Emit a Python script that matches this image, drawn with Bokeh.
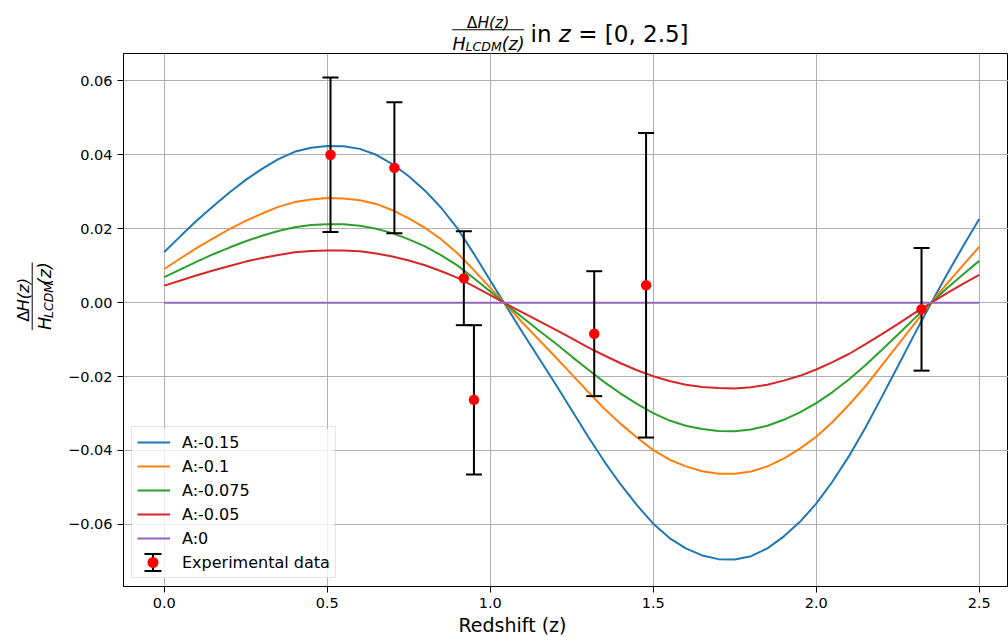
from bokeh.plotting import figure
from bokeh.layouts import column, row
from bokeh.models import (Range1d, FixedTicker, CustomJSTickFormatter, Label, Title,
                          BoxAnnotation, Legend, LegendItem)
from bokeh.embed import file_html
from bokeh.resources import INLINE

# ---------------- data ----------------
curve_z = [0.00, 0.05, 0.10, 0.15, 0.20, 0.25, 0.30, 0.35, 0.40, 0.45,
           0.50, 0.55, 0.60, 0.65, 0.70, 0.75, 0.80, 0.85, 0.90, 0.95,
           1.00, 1.05, 1.10, 1.15, 1.20, 1.25, 1.30, 1.35, 1.40, 1.45,
           1.50, 1.55, 1.60, 1.65, 1.70, 1.75, 1.80, 1.85, 1.90, 1.95,
           2.00, 2.05, 2.10, 2.15, 2.20, 2.25, 2.30, 2.35, 2.40, 2.45, 2.50]

dh_a015 = [0.0137, 0.0180, 0.0222, 0.0261, 0.0298, 0.0332, 0.0362, 0.0388, 0.0408, 0.0419,
           0.0424, 0.0423, 0.0416, 0.0400, 0.0375, 0.0342, 0.0303, 0.0256, 0.0200, 0.0132,
           0.0060, -0.0011, -0.0082, -0.0151, -0.0220, -0.0291, -0.0362, -0.0430, -0.0492, -0.0548,
           -0.0598, -0.0637, -0.0665, -0.0684, -0.0694, -0.0695, -0.0686, -0.0665, -0.0633, -0.0593,
           -0.0544, -0.0484, -0.0416, -0.0340, -0.0257, -0.0173, -0.0088, -0.0005, 0.0075, 0.0152, 0.0226]

dh_a010 = [0.0091, 0.0120, 0.0148, 0.0174, 0.0199, 0.0221, 0.0241, 0.0259, 0.0272, 0.0279,
           0.0283, 0.0282, 0.0277, 0.0267, 0.0250, 0.0228, 0.0202, 0.0171, 0.0133, 0.0088,
           0.0040, -0.0007, -0.0055, -0.0101, -0.0147, -0.0194, -0.0241, -0.0287, -0.0328, -0.0365,
           -0.0399, -0.0425, -0.0443, -0.0456, -0.0463, -0.0463, -0.0457, -0.0443, -0.0422, -0.0395,
           -0.0363, -0.0323, -0.0277, -0.0227, -0.0171, -0.0115, -0.0059, -0.0003, 0.0050, 0.0101, 0.0151]

dh_a0075 = [0.0069, 0.0090, 0.0111, 0.0131, 0.0149, 0.0166, 0.0181, 0.0194, 0.0204, 0.0210,
            0.0212, 0.0212, 0.0208, 0.0200, 0.0188, 0.0171, 0.0152, 0.0128, 0.0100, 0.0066,
            0.0030, -0.0006, -0.0041, -0.0076, -0.0110, -0.0146, -0.0181, -0.0215, -0.0246, -0.0274,
            -0.0299, -0.0319, -0.0333, -0.0342, -0.0347, -0.0348, -0.0343, -0.0333, -0.0317, -0.0297,
            -0.0272, -0.0242, -0.0208, -0.0170, -0.0129, -0.0087, -0.0044, -0.0003, 0.0038, 0.0076, 0.0113]

dh_a005 = [0.0046, 0.0060, 0.0074, 0.0087, 0.0099, 0.0111, 0.0121, 0.0129, 0.0136, 0.0140,
           0.0141, 0.0141, 0.0139, 0.0133, 0.0125, 0.0114, 0.0101, 0.0085, 0.0067, 0.0044,
           0.0020, -0.0004, -0.0027, -0.0050, -0.0073, -0.0097, -0.0121, -0.0143, -0.0164, -0.0183,
           -0.0199, -0.0212, -0.0222, -0.0228, -0.0231, -0.0232, -0.0229, -0.0222, -0.0211, -0.0198,
           -0.0181, -0.0161, -0.0139, -0.0113, -0.0086, -0.0058, -0.0029, -0.0002, 0.0025, 0.0051, 0.0075]

zero_z = [0.0, 2.5]
dh_a0 = [0.0, 0.0]

series_labels = ["A:-0.15", "A:-0.1", "A:-0.075", "A:-0.05", "A:0"]
series_colors = ["#1f77b4", "#ff7f0e", "#2ca02c", "#d62728", "#9467bd"]

exp_z = [0.510, 0.706, 0.919, 0.950, 1.319, 1.478, 2.323]
exp_dh = [0.0400, 0.0365, 0.0066, -0.0263, -0.0084, 0.0047, -0.0018]
exp_err = [0.0209, 0.0177, 0.0127, 0.0202, 0.0169, 0.0412, 0.0166]

x_ticks = [0.0, 0.5, 1.0, 1.5, 2.0, 2.5]
y_ticks = [-0.06, -0.04, -0.02, 0.0, 0.02, 0.04, 0.06]

FONT = "DejaVu Sans"


def blank(width, height, x0, x1, y_top, y_bottom):
    """A plain canvas whose data units are pixels (y grows downward)."""
    f = figure(width=width, height=height, x_range=Range1d(x0, x1),
               y_range=Range1d(y_bottom, y_top), x_axis_location=None, y_axis_location=None,
               min_border=0, output_backend="svg", toolbar_location=None,
               background_fill_color="white", border_fill_color="white")
    f.outline_line_color = None
    f.xgrid.visible = False
    f.ygrid.visible = False
    return f


def text(f, t, x, y, size, style="normal", angle=0.0):
    f.add_layout(Label(x=x, y=y, text=t,
                       text_font=FONT, text_font_size=f"{size}px", text_font_style=style,
                       text_align="left", text_baseline="alphabetic", angle=angle,
                       text_color="black"))


def box(f, l, r, b, t, color="black", alpha=1.0, radius=0, units="data"):
    f.add_layout(BoxAnnotation(left=l, right=r, bottom=b, top=t,
                               left_units=units, right_units=units,
                               bottom_units=units, top_units=units,
                               fill_color=color, fill_alpha=alpha, line_color=None,
                               border_radius=radius))


# ---------------- title strip (0..1008 x 0..53) ----------------
tf = blank(1008, 53, 0, 1008, 0, 53)
text(tf, "\u0394", 466.3, 22.6, 15.5)
text(tf, "H(z)", 476.9, 22.6, 15.5, "italic")
box(tf, 451.7, 523.8, 29.8, 28.8)
text(tf, "H", 451.9, 43.5, 17.5, "italic")
text(tf, "LCDM", 465.1, 45.8, 12.5, "italic")
text(tf, "(z)", 501.2, 43.5, 17.5, "italic")
text(tf, "in", 530.0, 33.7, 23)
text(tf, "z", 558.3, 33.7, 23, "italic")
text(tf, "= [0, 2.5]", 577.7, 33.7, 23)

# ---------------- y-label strip (0..60 x 53..637) ----------------
yf = blank(60, 584, 0, 60, 53, 637)
ang = 1.5707963
text(yf, "\u0394", 22.8, 347.0, 16.4, angle=ang)
text(yf, "H(z)", 22.8, 335.8, 16.4, "italic", angle=ang)
box(yf, 31.2, 32.2, 356.0, 282.0)
text(yf, "H", 44.5, 356.0, 17.5, "italic", angle=ang)
text(yf, "LCDM", 48.0, 342.8, 12.5, "italic", angle=ang)
text(yf, "(z)", 44.5, 306.7, 17.5, "italic", angle=ang)

# ---------------- main plot ----------------
p = figure(frame_width=885, frame_height=533,
           min_border_left=63, min_border_right=0, min_border_top=0, min_border_bottom=0,
           x_range=Range1d(-0.125, 2.5898), y_range=Range1d(-0.0768, 0.0674),
           output_backend="svg", toolbar_location=None,
           background_fill_color="white", border_fill_color="white")
p.outline_line_color = "black"
p.outline_line_width = 1

for ax in (p.xaxis[0], p.yaxis[0]):
    ax.axis_line_color = "black"
    ax.major_tick_line_color = "black"
    ax.major_tick_out = 6
    ax.major_tick_in = 0
    ax.minor_tick_line_color = None
    ax.major_label_text_font = FONT
    ax.major_label_text_font_size = "14.5px"
    ax.major_label_text_color = "black"
    ax.major_label_standoff = 5
    ax.axis_label_standoff = 0

p.xaxis.ticker = FixedTicker(ticks=x_ticks)
p.yaxis.ticker = FixedTicker(ticks=y_ticks)
p.xaxis.formatter = CustomJSTickFormatter(code="return tick.toFixed(1);")
p.yaxis.formatter = CustomJSTickFormatter(
    code="return (tick < -1e-9 ? '\u2212' : '') + Math.abs(tick).toFixed(2);")

p.xgrid.grid_line_color = "#b0b0b0"
p.ygrid.grid_line_color = "#b0b0b0"
p.xgrid.grid_line_width = 1
p.ygrid.grid_line_width = 1

# x-axis label, placed as a title below the axis
p.add_layout(Title(text="Redshift (z)", align="left", offset=335, standoff=3,
                   text_font=FONT, text_font_size="19px", text_font_style="normal",
                   text_color="black"), "below")

renderers = []
for ys, col in zip([dh_a015, dh_a010, dh_a0075, dh_a005], series_colors[:4]):
    renderers.append(p.line(curve_z, ys, line_color=col, line_width=2))
renderers.append(p.line(zero_z, dh_a0, line_color=series_colors[4], line_width=2))

lower = [v - e for v, e in zip(exp_dh, exp_err)]
upper = [v + e for v, e in zip(exp_dh, exp_err)]
p.segment(x0=exp_z, y0=lower, x1=exp_z, y1=upper, line_color="black", line_width=2)
p.scatter(exp_z, lower, marker="dash", size=16, line_color="black", line_width=2)
p.scatter(exp_z, upper, marker="dash", size=16, line_color="black", line_width=2)
r_dot = p.scatter(exp_z, exp_dh, marker="circle", size=10.5, fill_color="red", line_color=None)

items = [LegendItem(label=lab, renderers=[r]) for lab, r in zip(series_labels, renderers)]
items.append(LegendItem(label="Experimental data", renderers=[r_dot]))
legend = Legend(items=items, location="bottom_left", margin=8, padding=5, spacing=4,
                glyph_width=33, glyph_height=20, label_height=20, label_standoff=12,
                label_text_font=FONT, label_text_font_size="16px", label_text_color="black",
                border_line_color="#cccccc", border_line_width=1,
                background_fill_color="white", background_fill_alpha=0.0)
p.add_layout(legend)

# translucent legend background and the error-bar legend glyph (bar, caps, dot)
box(p, 8.5, 210.5, 8.5, 157.5, color="white", alpha=0.8, units="screen")
box(p, 28.5, 30.5, 15.5, 32.5, units="screen")
box(p, 21.0, 38.0, 14.5, 16.5, units="screen")
box(p, 21.0, 38.0, 31.5, 33.5, units="screen")
box(p, 24.0, 35.0, 18.5, 29.5, color="red", radius=6, units="screen")

layout = column(tf, row(yf, p))
open("out.html", "w").write(file_html(layout, INLINE))
